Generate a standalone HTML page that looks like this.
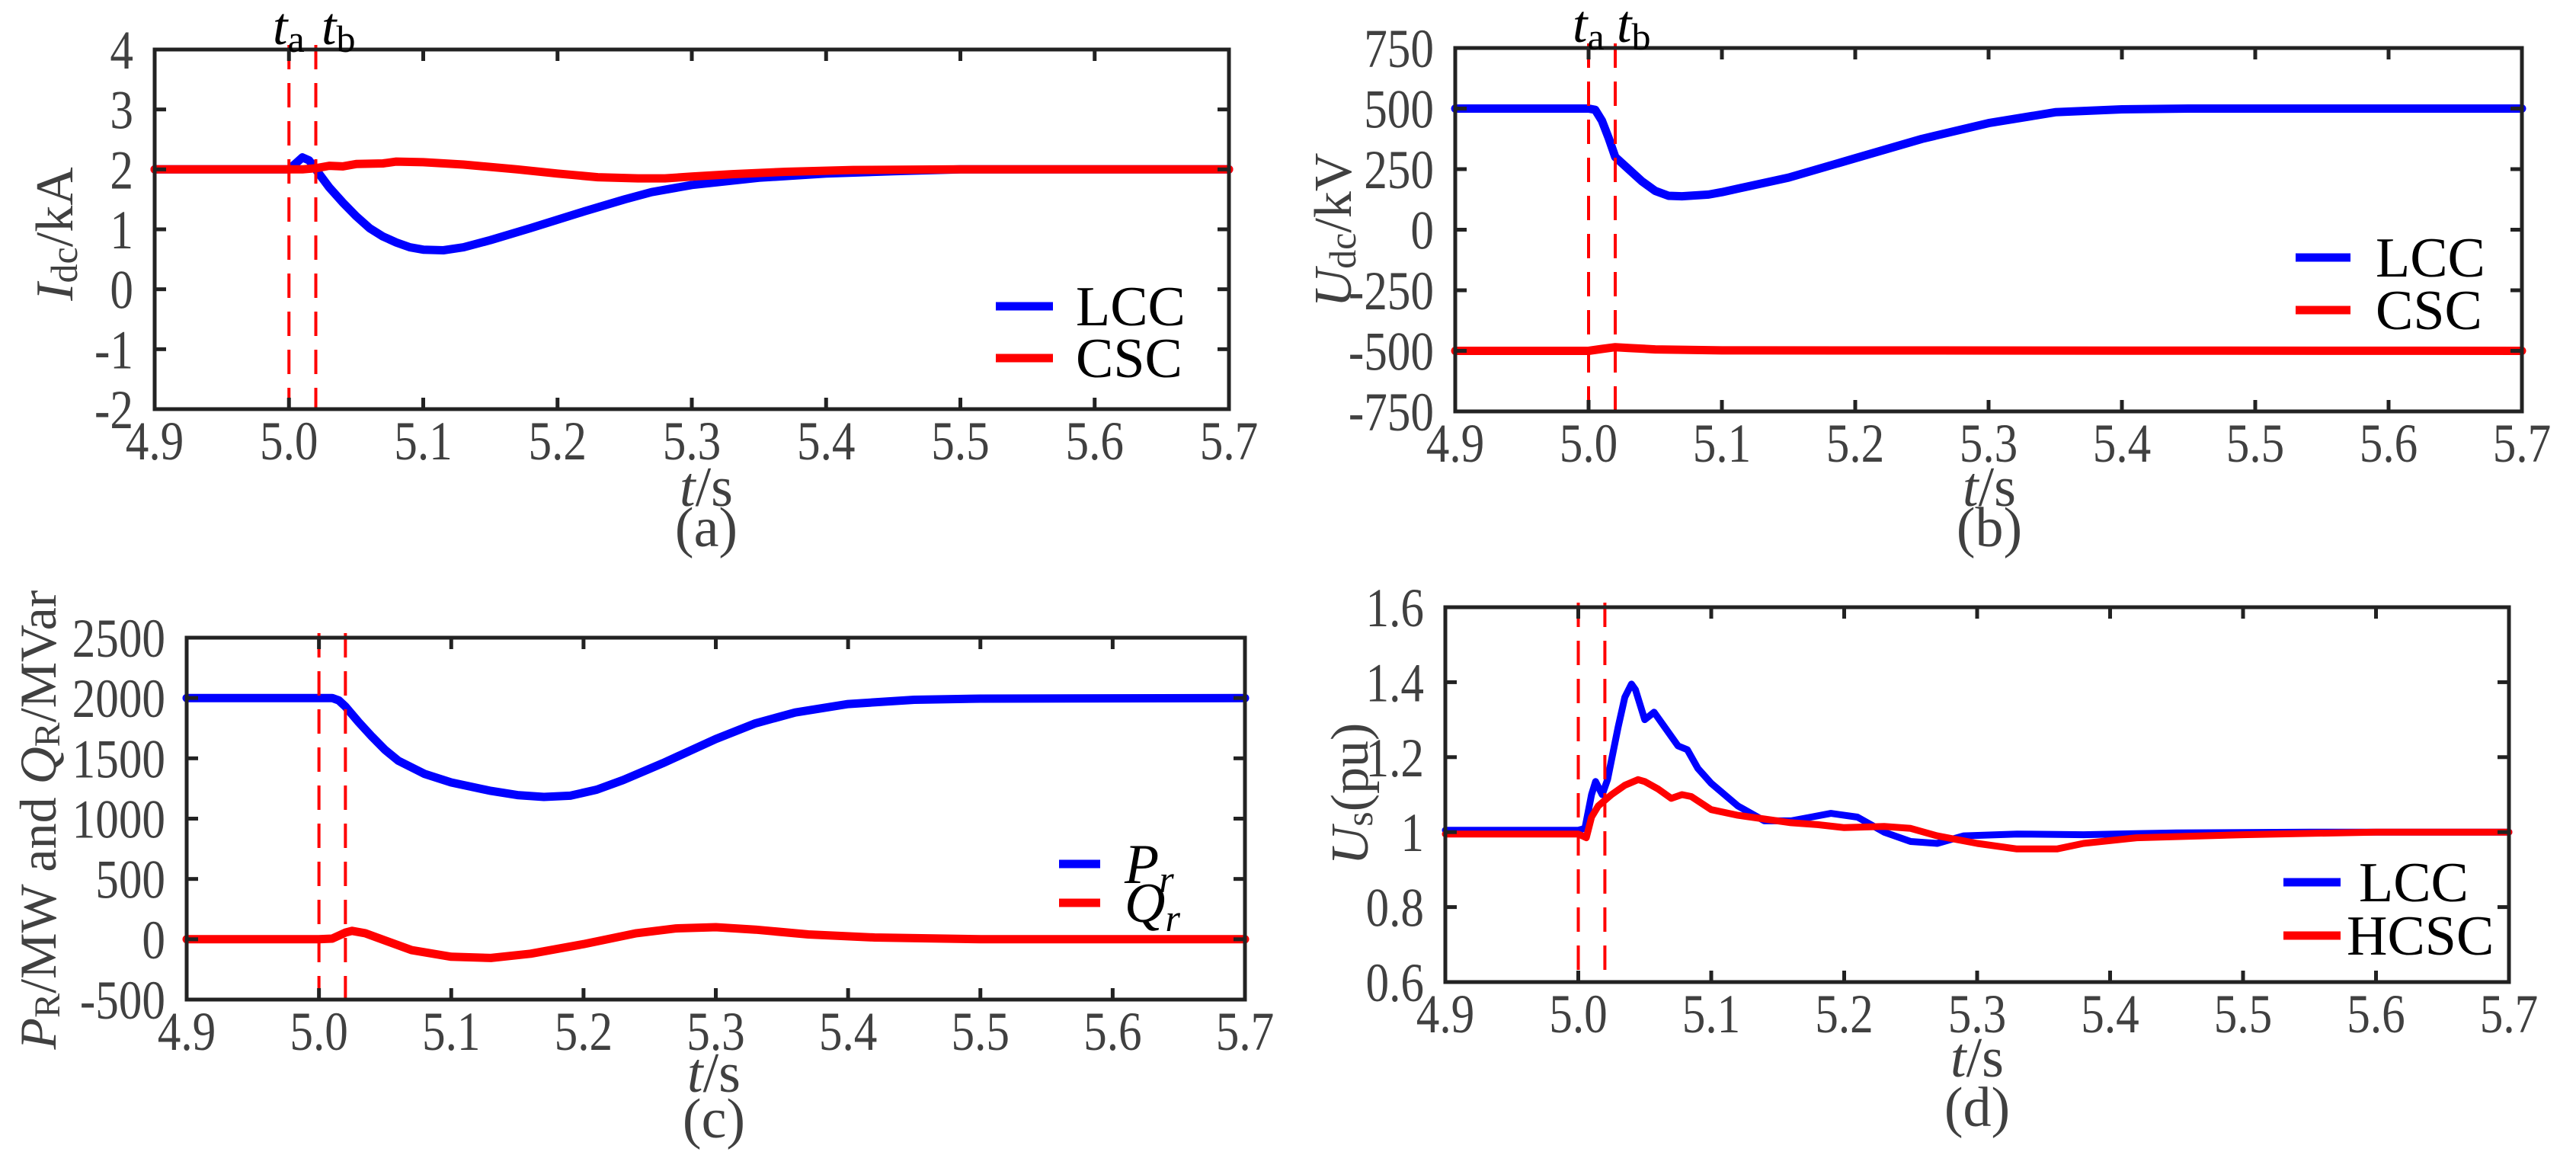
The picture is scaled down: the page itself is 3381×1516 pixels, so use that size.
<!DOCTYPE html>
<html><head><meta charset="utf-8">
<style>
html,body{margin:0;padding:0;background:#fff;}
svg{display:block;}
svg text{font-family:"Liberation Serif","Times New Roman",serif;}
</style></head>
<body>
<svg id="fig" xmlns="http://www.w3.org/2000/svg" width="3381" height="1516" viewBox="0 0 3381 1516" font-family="Liberation Serif, serif">
<rect width="3381" height="1516" fill="#fff"/>
</svg>
<script>
// ---- shared x axis data ----
const xTickValues = [4.9, 5.0, 5.1, 5.2, 5.3, 5.4, 5.5, 5.6, 5.7];
const xTickLabels = ["4.9","5.0","5.1","5.2","5.3","5.4","5.5","5.6","5.7"];
const eventTimes = [5.0, 5.02];

// ---- panel (a) Idc ----
const aYTicks = [-2, -1, 0, 1, 2, 3, 4];
const aYLabels = ["-2","-1","0","1","2","3","4"];
const aLccT = [4.9, 5.0, 5.005, 5.01, 5.015, 5.02, 5.03, 5.04, 5.05, 5.06, 5.07, 5.08, 5.09, 5.1, 5.115, 5.13, 5.15, 5.18, 5.2, 5.22, 5.25, 5.27, 5.3, 5.35, 5.4, 5.45, 5.5, 5.7];
const aLccV = [2.0, 2.0, 2.1, 2.2, 2.15, 2.0, 1.7, 1.45, 1.22, 1.02, 0.88, 0.78, 0.7, 0.66, 0.65, 0.7, 0.82, 1.02, 1.16, 1.3, 1.5, 1.62, 1.74, 1.86, 1.93, 1.97, 2.0, 2.0];
const aCscT = [4.9, 5.0, 5.01, 5.02, 5.03, 5.04, 5.05, 5.07, 5.08, 5.1, 5.13, 5.17, 5.2, 5.23, 5.26, 5.28, 5.3, 5.33, 5.37, 5.42, 5.5, 5.7];
const aCscV = [2.0, 2.0, 2.0, 2.02, 2.06, 2.05, 2.09, 2.1, 2.13, 2.12, 2.08, 2.0, 1.93, 1.87, 1.85, 1.85, 1.88, 1.92, 1.96, 1.99, 2.0, 2.0];

// ---- panel (b) Udc ----
const bYTicks = [-750, -500, -250, 0, 250, 500, 750];
const bYLabels = ["-750","-500","-250","0","250","500","750"];
const bLccT = [4.9, 5.0, 5.005, 5.01, 5.015, 5.02, 5.03, 5.04, 5.05, 5.06, 5.07, 5.09, 5.1, 5.15, 5.2, 5.25, 5.3, 5.35, 5.4, 5.45, 5.7];
const bLccV = [500, 500, 495, 450, 380, 300, 250, 200, 160, 140, 138, 145, 155, 215, 295, 375, 440, 485, 497, 500, 500];
const bCscT = [4.9, 5.0, 5.01, 5.02, 5.03, 5.05, 5.1, 5.7];
const bCscV = [-500, -500, -492, -485, -488, -494, -498, -500];

// ---- panel (c) P and Q ----
const cYTicks = [-500, 0, 500, 1000, 1500, 2000, 2500];
const cYLabels = ["-500","0","500","1000","1500","2000","2500"];
const cPT = [4.9, 5.0, 5.01, 5.015, 5.02, 5.03, 5.04, 5.05, 5.06, 5.08, 5.1, 5.13, 5.15, 5.17, 5.19, 5.21, 5.23, 5.26, 5.3, 5.33, 5.36, 5.4, 5.45, 5.5, 5.7];
const cPV = [2000, 2000, 2000, 1980, 1930, 1800, 1680, 1570, 1480, 1370, 1300, 1230, 1195, 1180, 1190, 1240, 1320, 1460, 1660, 1790, 1880, 1950, 1985, 1995, 2000];
const cQT = [4.9, 5.0, 5.01, 5.02, 5.025, 5.035, 5.05, 5.07, 5.1, 5.13, 5.16, 5.2, 5.24, 5.27, 5.3, 5.33, 5.37, 5.42, 5.5, 5.7];
const cQV = [0, 0, 5, 55, 70, 50, -10, -90, -145, -155, -120, -40, 50, 90, 100, 80, 40, 15, 0, 0];

// ---- panel (d) Us ----
const dYTicks = [0.6, 0.8, 1.0, 1.2, 1.4, 1.6];
const dYLabels = ["0.6","0.8","1","1.2","1.4","1.6"];
const dLccT = [4.9, 5.0, 5.005, 5.01, 5.013, 5.018, 5.022, 5.03, 5.035, 5.04, 5.043, 5.05, 5.057, 5.065, 5.075, 5.082, 5.09, 5.1, 5.12, 5.14, 5.16, 5.175, 5.19, 5.21, 5.23, 5.25, 5.27, 5.29, 5.33, 5.38, 5.45, 5.55, 5.7];
const dLccV = [1.005, 1.005, 1.01, 1.1, 1.135, 1.1, 1.14, 1.28, 1.36, 1.395, 1.38, 1.3, 1.32, 1.28, 1.23, 1.22, 1.17, 1.13, 1.07, 1.03, 1.03, 1.04, 1.05, 1.04, 1.0, 0.975, 0.97, 0.99, 0.995, 0.993, 0.998, 1.0, 1.0];
const dHcT = [4.9, 5.0, 5.006, 5.01, 5.015, 5.02, 5.025, 5.035, 5.045, 5.05, 5.06, 5.07, 5.078, 5.085, 5.1, 5.12, 5.14, 5.16, 5.18, 5.2, 5.23, 5.25, 5.27, 5.3, 5.33, 5.36, 5.38, 5.42, 5.5, 5.6, 5.7];
const dHcV = [0.995, 0.995, 0.985, 1.04, 1.07, 1.085, 1.1, 1.125, 1.14, 1.135, 1.115, 1.09, 1.1, 1.095, 1.06, 1.045, 1.035, 1.025, 1.02, 1.012, 1.015, 1.01, 0.99, 0.97, 0.955, 0.955, 0.97, 0.985, 0.993, 1.0, 1.0];

const NS = "http://www.w3.org/2000/svg";
const FONT = "'Liberation Serif', serif";
const SQ = 0.85; // horizontal squeeze of tick labels
const svg = document.getElementById("fig");
function mk(tag, attrs, parent) {
  const e = document.createElementNS(NS, tag);
  for (const k in attrs) e.setAttribute(k, attrs[k]);
  if (tag === "text") e.setAttribute("font-family", FONT);
  (parent || svg).appendChild(e);
  return e;
}

function drawPanel(p) {
  const g = mk("g", {});
  
  
  const sx = v => p.L + (v - 4.9) / 0.8 * (p.R - p.L);
  const sy = v => p.B - (v - p.ymin) / (p.ymax - p.ymin) * (p.B - p.T);

  p.series.forEach(s => {
    let d = "";
    s.t.forEach((t, i) => { d += (i ? "L" : "M") + sx(t).toFixed(1) + " " + sy(s.v[i]).toFixed(1); });
    const path = mk("path", {d: d, fill: "none", stroke: s.color, "stroke-width": p.lw, "stroke-linejoin": "round", "stroke-linecap": "round"}, g);
    
    
  });

  eventTimes.forEach((t, i) => {
    const ln = mk("line", {x1: sx(t), x2: sx(t), y1: p.T - 6, y2: p.dashBottom, stroke: "#ff0000", "stroke-width": 4, "stroke-dasharray": "32 18"}, g);
    
    
  });

  xTickValues.forEach((v, i) => {
    const x = sx(v);
    if (i > 0 && i < xTickValues.length - 1) {
      mk("line", {x1: x, x2: x, y1: p.B, y2: p.B - 15, stroke: "#222", "stroke-width": 5}, g);
      mk("line", {x1: x, x2: x, y1: p.T, y2: p.T + 15, stroke: "#222", "stroke-width": 5}, g);
    }
    const tl = mk("text", {x: x / SQ, y: p.B + 66, "text-anchor": "middle", "font-size": 72, fill: "#404040", transform: "scale(" + SQ + ",1)"}, g);
    tl.textContent = xTickLabels[i];
    
    
  });
  p.yTicks.forEach((v, i) => {
    const y = sy(v);
    if (i > 0 && i < p.yTicks.length - 1) {
      mk("line", {x1: p.L, x2: p.L + 15, y1: y, y2: y, stroke: "#222", "stroke-width": 5}, g);
      mk("line", {x1: p.R, x2: p.R - 15, y1: y, y2: y, stroke: "#222", "stroke-width": 5}, g);
    }
    const tl = mk("text", {x: (p.L - 28) / SQ, y: y + 25, "text-anchor": "end", "font-size": 72, fill: "#404040", transform: "scale(" + SQ + ",1)"}, g);
    tl.textContent = p.yLabels[i];
    
    
  });

  const box = mk("rect", {x: p.L, y: p.T, width: p.R - p.L, height: p.B - p.T, fill: "none", stroke: "#222", "stroke-width": 5}, g);
  
  

  p.series.forEach((s, i) => {
    const ly = p.legY[i];
    const ll = mk("line", {x1: p.legX1, x2: p.legX2, y1: ly, y2: ly, stroke: s.color, "stroke-width": 11}, g);
    
    
    const lt = mk("text", {x: p.legTX[i], y: ly + 25, "font-size": 74, fill: "#000"}, g);
    lt.innerHTML = s.label;
    
    
  });

  const xt = mk("text", {x: p.xTitleX, y: p.xTitleY, "text-anchor": "middle", "font-size": 74, fill: "#404040"}, g);
  xt.innerHTML = '<tspan font-style="italic">t</tspan>/s';
  
  
  const cap = mk("text", {x: p.xTitleX, y: p.capY, "text-anchor": "middle", "font-size": 74, fill: "#404040"}, g);
  cap.textContent = p.caption;
  
  

  const yt = mk("text", {x: 0, y: 0, "text-anchor": "middle", "dominant-baseline": "central", "font-size": p.yTitleSize, fill: "#404040", transform: "translate(" + p.yTitleX + "," + p.yTitleY + ") rotate(-90)"}, g);
  yt.innerHTML = p.yTitle;
  
  

  if (p.tLabels) {
    p.tLabels.forEach((x, i) => {
      const t = mk("text", {x: x, y: p.tLabelY, "font-size": 70, fill: "#000"}, g);
      t.innerHTML = '<tspan font-style="italic">t</tspan><tspan font-size="50" dy="10">' + (i ? 'b' : 'a') + '</tspan>';
      
      
    });
  }
}

drawPanel({name: "panel-a-idc", L: 203, R: 1613, T: 65, B: 537, ymin: -2, ymax: 4, lw: 11, dashBottom: 537,
  yTicks: aYTicks, yLabels: aYLabels,
  series: [{name: "lcc-idc-line", t: aLccT, v: aLccV, color: "#0000ff", label: "LCC"},
           {name: "csc-idc-line", t: aCscT, v: aCscV, color: "#ff0000", label: "CSC"}],
  legX1: 1307, legX2: 1382, legY: [402, 470], legTX: [1412, 1412],
  xTitleX: 927, xTitleY: 664, capY: 717, caption: "(a)",
  yTitle: '<tspan font-style="italic">I</tspan><tspan font-size="50" dy="12">dc</tspan><tspan dy="-12">/kA</tspan>', yTitleSize: 70, yTitleX: 72, yTitleY: 307,
  tLabels: [358, 422], tLabelY: 58});

drawPanel({name: "panel-b-udc", L: 1910, R: 3310, T: 63, B: 540, ymin: -750, ymax: 750, lw: 11, dashBottom: 540,
  yTicks: bYTicks, yLabels: bYLabels,
  series: [{name: "lcc-udc-line", t: bLccT, v: bLccV, color: "#0000ff", label: "LCC"},
           {name: "csc-udc-line", t: bCscT, v: bCscV, color: "#ff0000", label: "CSC"}],
  legX1: 3013, legX2: 3085, legY: [338, 407], legTX: [3118, 3118],
  xTitleX: 2611, xTitleY: 664, capY: 717, caption: "(b)",
  yTitle: '<tspan font-style="italic">U</tspan><tspan font-size="50" dy="12">dc</tspan><tspan dy="-12">/kV</tspan>', yTitleSize: 70, yTitleX: 1750, yTitleY: 302,
  tLabels: [2064, 2122], tLabelY: 55});

drawPanel({name: "panel-c-power", L: 245, R: 1634, T: 837, B: 1312, ymin: -500, ymax: 2500, lw: 11, dashBottom: 1316,
  yTicks: cYTicks, yLabels: cYLabels,
  series: [{name: "active-power-line", t: cPT, v: cPV, color: "#0000ff", label: '<tspan font-style="italic">P</tspan><tspan font-style="italic" font-size="50" dy="12">r</tspan>'},
           {name: "reactive-power-line", t: cQT, v: cQV, color: "#ff0000", label: '<tspan font-style="italic">Q</tspan><tspan font-style="italic" font-size="50" dy="12">r</tspan>'}],
  legX1: 1390, legX2: 1444, legY: [1134, 1185], legTX: [1476, 1476],
  xTitleX: 937, xTitleY: 1433, capY: 1493, caption: "(c)",
  yTitle: '<tspan font-style="italic">P</tspan><tspan font-size="48" dy="12">R</tspan><tspan dy="-12">/MW and </tspan><tspan font-style="italic">Q</tspan><tspan font-size="48" dy="12">R</tspan><tspan dy="-12">/MVar</tspan>', yTitleSize: 68, yTitleX: 50, yTitleY: 1076});

drawPanel({name: "panel-d-us", L: 1897, R: 3293, T: 797, B: 1289, ymin: 0.6, ymax: 1.6, lw: 9, dashBottom: 1280,
  yTicks: dYTicks, yLabels: dYLabels,
  series: [{name: "lcc-us-line", t: dLccT, v: dLccV, color: "#0000ff", label: "LCC"},
           {name: "hcsc-us-line", t: dHcT, v: dHcV, color: "#ff0000", label: "HCSC"}],
  legX1: 2997, legX2: 3072, legY: [1158, 1228], legTX: [3096, 3080],
  xTitleX: 2595, xTitleY: 1413, capY: 1478, caption: "(d)",
  yTitle: '<tspan font-style="italic">U</tspan><tspan font-size="50" dy="12">s</tspan><tspan dy="-12">(pu)</tspan>', yTitleSize: 70, yTitleX: 1772, yTitleY: 1042});
</script>
</body></html>
